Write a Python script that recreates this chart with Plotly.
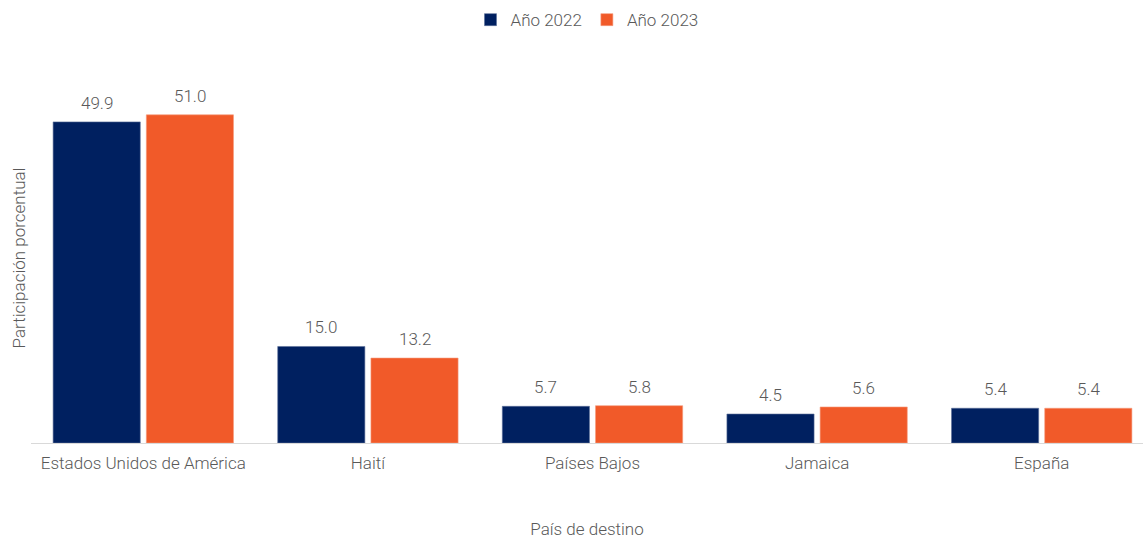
import plotly.graph_objects as go

categories = ["Estados Unidos de América", "Haití", "Países Bajos", "Jamaica", "España"]
values_2022 = [49.9, 15.0, 5.7, 4.5, 5.4]
values_2023 = [51.0, 13.2, 5.8, 5.6, 5.4]
series_names = ["Año 2022", "Año 2023"]

FONT = dict(family="Roboto", size=17, color="#595959", weight=300)

fig = go.Figure()
fig.add_trace(go.Bar(x=categories, y=values_2022, name=series_names[0],
                     marker=dict(color="#002060", line=dict(color="#5a6f99", width=0.6))))
fig.add_trace(go.Bar(x=categories, y=values_2023, name=series_names[1],
                     marker=dict(color="#F15A29", line=dict(color="#f59a7c", width=0.6))))

# data labels placed via axis coordinates with a group offset
for vals, shift in ((values_2022, -46.6), (values_2023, 46.6)):
    for c, v in zip(categories, vals):
        fig.add_annotation(x=c, y=v, text=f"{v:.1f}", showarrow=False, xshift=shift,
                           yanchor="bottom", yshift=7, font=FONT)

fig.update_layout(
    width=1143, height=539,
    margin=dict(l=31, r=0, t=73, b=96),
    paper_bgcolor="white", plot_bgcolor="white",
    font=FONT,
    barmode="group", bargap=0.17, bargroupgap=0.065,
    legend=dict(orientation="h", x=0.5, xanchor="center", y=1.143, yref="paper",
                yanchor="middle", font=FONT, itemwidth=30, traceorder="normal"),
    xaxis=dict(range=[-0.5, 4.451], showline=True, linecolor="#d9d9d9", linewidth=1,
               ticks="", tickfont=FONT, showgrid=False, automargin=False,
               ticklabelstandoff=5,
               title=dict(text="País de destino", font=FONT, standoff=55)),
    yaxis=dict(range=[0, 57.5], showticklabels=False, showgrid=False, zeroline=False,
               ticks="", automargin=False,
               title=dict(text="Participación porcentual", font=FONT, standoff=0)),
)
fig.write_html("out.html", config={"displayModeBar": False},
               post_script="document.body.style.margin='0';")
